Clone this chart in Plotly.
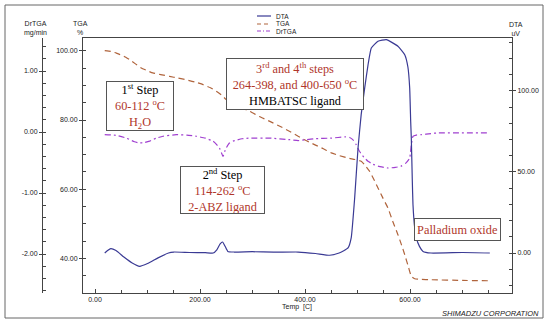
import plotly.graph_objects as go

# ---------------- data ----------------
dta_temp = [18.5, 24, 30, 40, 55, 70, 85, 100, 120, 140, 150, 180, 210, 225, 232, 238, 243, 248, 253,
            265, 300, 340, 387, 420, 447, 465, 482, 488, 494.6, 501, 507, 513.7, 520, 526.3, 539, 555,
            577, 590, 596, 599.4, 601.3, 602.5, 604.4, 605.7, 609, 612, 618, 624.8, 640, 700, 752]
dta_val = [0, 1.5, 2.7, 1.5, -2.5, -6, -8.2, -6.5, -3, 0, 0.6, 0.3, 0.2, 0, 2, 5.5, 6.8, 4, 1,
           0.6, 0.8, 0.5, 0.6, -0.3, -1.4, 0, 3.1, 9.3, 34, 64.8, 85.4, 101.9, 116, 126.5, 130.7, 131.7,
           127.6, 122.4, 114.8, 101.9, 81.3, 71, 44.6, 29.8, 15.4, 9.3, 4.1, 1, 0, 0.3, 0]

tga_temp = [18.5, 30, 40.6, 55, 66, 77, 88, 100, 110, 125, 142, 158, 174, 190, 206, 220, 231, 241, 250,
            265, 280, 295, 313, 333, 352, 371, 387, 403, 418, 435, 450, 466, 482, 495, 507, 515, 523,
            531, 539, 548, 558, 567, 577, 584, 590, 597, 602.5, 609, 620, 640, 700, 752]
tga_val = [100, 99.8, 99.3, 98.4, 97.4, 96.2, 95, 94.2, 93.6, 93.1, 92.6, 92.1, 91.6, 91, 90.2, 89.3, 88.3,
           87.2, 85.9, 84.5, 83.4, 82.5, 81, 79.6, 78.2, 76.7, 75.3, 74, 72.9, 71.7, 70.5, 69.7, 69, 68.6,
           68.1, 66.8, 65.2, 62.9, 60.4, 57.6, 54.6, 50.8, 46.9, 43.9, 41.1, 37.6, 34.9, 34.2, 34, 33.9,
           33.7, 33.6]

drtga_temp = [18.5, 40.6, 59.6, 75, 85, 95, 104, 117, 129.5, 155, 175, 193, 210, 225, 233, 238, 243.8,
              247, 250, 256, 263, 280, 295, 333, 371, 387, 403, 418.5, 450, 476, 485, 491, 497, 504, 512,
              520, 530, 539, 558, 572, 583, 592, 599.4, 601, 602.5, 605.7, 612, 621.5, 640, 653, 752]
drtga_val = [-0.044, -0.054, -0.1, -0.16, -0.18, -0.17, -0.15, -0.1, -0.07, -0.044, -0.05, -0.07, -0.1,
             -0.15, -0.22, -0.28, -0.4, -0.32, -0.26, -0.18, -0.15, -0.11, -0.1, -0.1, -0.126, -0.14,
             -0.125, -0.11, -0.1, -0.08, -0.09, -0.126, -0.2, -0.32, -0.41, -0.48, -0.53, -0.56, -0.59,
             -0.58, -0.56, -0.51, -0.43, -0.33, -0.21, -0.07, -0.05, -0.044, -0.025, -0.016, -0.016]

x_ticks = [0, 200, 400, 600]
x_tick_labels = ["0.00", "200.00", "400.00", "600.00"]
tga_ticks = [40, 60, 80, 100]
tga_tick_labels = ["40.00", "60.00", "80.00", "100.00"]
drtga_ticks = [-2, -1, 0, 1]
drtga_tick_labels = ["-2.00", "-1.00", "0.00", "1.00"]
dta_ticks = [0, 50, 100]
dta_tick_labels = ["0.00", "50.00", "100.00"]

series_names = ["DTA", "TGA", "DrTGA"]

# ---------------- style ----------------
C_DTA = "#3a3a94"
C_TGA = "#b0643c"
C_DRTGA = "#a040d0"
RED = "#b0362a"
AX = "#444444"
W, H = 550, 325
L, R, T, B = 42, 38, 38, 32
PW, PH = W - L - R, H - T - B


def px(xp):
    return (xp - L) / PW


def py(yp):
    return (H - B - yp) / PH


tickfont = dict(family="Liberation Sans, Arial, sans-serif", size=7, color="#222")

fig = go.Figure()
fig.add_trace(go.Scatter(x=dta_temp, y=dta_val, yaxis="y3", mode="lines", name=series_names[0],
                         line=dict(color=C_DTA, width=1.2, shape="spline", smoothing=0.4)))
fig.add_trace(go.Scatter(x=tga_temp, y=tga_val, yaxis="y", mode="lines", name=series_names[1],
                         line=dict(color=C_TGA, width=1.2, dash="6px,4px", shape="spline", smoothing=0.4)))
fig.add_trace(go.Scatter(x=drtga_temp, y=drtga_val, yaxis="y2", mode="lines", name=series_names[2],
                         line=dict(color=C_DRTGA, width=1.2, dash="6px,3px,2px,3px", shape="spline",
                                   smoothing=0.4)))

minor_in = lambda d, t0: dict(tickmode="linear", tick0=t0, dtick=d, ticks="inside", ticklen=3,
                              tickcolor=AX, showgrid=False)

fig.update_layout(
    width=W, height=H, margin=dict(l=L, r=R, t=T, b=B),
    paper_bgcolor="white", plot_bgcolor="white", showlegend=False,
    xaxis=dict(domain=[px(83), 1], range=[-22.9, 794.3], showline=True, linecolor=AX, linewidth=1,
               mirror=True, showgrid=False, zeroline=False, tickmode="array", tickvals=x_ticks,
               ticktext=x_tick_labels, ticks="inside", ticklen=4, tickcolor=AX, tickfont=tickfont,
               minor=minor_in(50, 0)),
    yaxis=dict(range=[30.07, 103.67], anchor="x", side="left", showline=True, linecolor=AX, linewidth=1,
               showgrid=False, zeroline=False, tickmode="array", tickvals=tga_ticks,
               ticktext=tga_tick_labels, ticks="outside", ticklen=3, tickcolor=AX, tickfont=tickfont,
               minor=minor_in(5, 0)),
    yaxis2=dict(range=[-2.639, 1.541], anchor="free", position=0, overlaying="y", side="left",
                showline=True, linecolor=AX, linewidth=1, showgrid=False, zeroline=False,
                tickmode="array", tickvals=drtga_ticks, ticktext=drtga_tick_labels, ticks="outside",
                ticklen=3, tickcolor=AX, tickfont=tickfont, minor=minor_in(0.2, 0)),
    yaxis3=dict(range=[-24.69, 132.7], anchor="x", overlaying="y", side="right", showline=True,
                linecolor=AX, linewidth=1, showgrid=False, zeroline=False, tickmode="array",
                tickvals=dta_ticks, ticktext=dta_tick_labels, ticks="outside", ticklen=3,
                tickcolor=AX, tickfont=tickfont, minor=minor_in(10, 0)),
)

# outer frame
fig.add_shape(type="rect", xref="paper", yref="paper", x0=px(5), x1=px(543), y0=py(318), y1=py(5),
              line=dict(color="#666", width=1), layer="above")

small = dict(family="Liberation Sans, Arial, sans-serif", size=7, color="#222")
ann = []
ann.append(dict(x=px(35), y=py(29), text="DrTGA<br>mg/min", font=small))
ann.append(dict(x=px(80), y=py(28.5), text="TGA<br>%", font=small))
ann.append(dict(x=px(516), y=py(29), text="DTA<br>uV", font=small))
ann.append(dict(x=px(297), y=py(307), text="Temp  [C]", font=small))
ann.append(dict(x=px(490), y=py(313), text="<i>SHIMADZU CORPORATION</i>",
                font=dict(family="Liberation Sans, Arial, sans-serif", size=7.5, color="#222")))
for a in ann:
    a.update(xref="paper", yref="paper", showarrow=False, xanchor="center", yanchor="middle")
    fig.add_annotation(**a)

# manual legend
leg_y = [16, 24, 31]
leg_styles = [dict(color=C_DTA, width=1.2), dict(color=C_TGA, width=1.2, dash="4px,3px"),
              dict(color=C_DRTGA, width=1.2, dash="4px,2px,1px,2px")]
for name, yy, st in zip(series_names, leg_y, leg_styles):
    fig.add_shape(type="line", xref="paper", yref="paper", x0=px(257), x1=px(271), y0=py(yy), y1=py(yy),
                  line=st)
    fig.add_annotation(xref="paper", yref="paper", x=px(274), y=py(yy), text=name, showarrow=False,
                       xanchor="left", yanchor="middle",
                       font=dict(family="Liberation Sans, Arial, sans-serif", size=6.5, color="#222"))

serif = dict(family="Liberation Serif, Times New Roman, serif", size=12.3, color="black")


def box(x0, y0, x1, y1, text):
    fig.add_annotation(xref="paper", yref="paper", x=px((x0 + x1) / 2), y=py((y0 + y1) / 2),
                       xanchor="center", yanchor="middle", showarrow=False, text=text, font=serif,
                       bgcolor="white", bordercolor="#555", borderwidth=1, borderpad=0,
                       width=x1 - x0 - 2, height=y1 - y0 - 2, align="center")


def red(s):
    return f"<span style='color:{RED}'>{s}</span>"


box(106, 81, 174, 131, "1<sup>st</sup> Step<br>" + red("60-112 <sup>o</sup>C") + "<br>" + red("H<sub>2</sub>O"))
box(180, 166, 265, 214, "2<sup>nd</sup> Step<br>" + red("114-262 <sup>o</sup>C") + "<br>" + red("2-ABZ ligand"))
box(226, 58, 364, 110, red("3<sup>rd</sup> and 4<sup>th</sup> steps") + "<br>" +
    red("264-398, and 400-650 <sup>o</sup>C") + "<br>HMBATSC ligand")
box(414, 218, 501, 241, red("Palladium oxide"))

fig.write_html("out.html", config={"displayModeBar": False},
               post_script="document.body.style.margin='0';document.body.style.padding='0';")
